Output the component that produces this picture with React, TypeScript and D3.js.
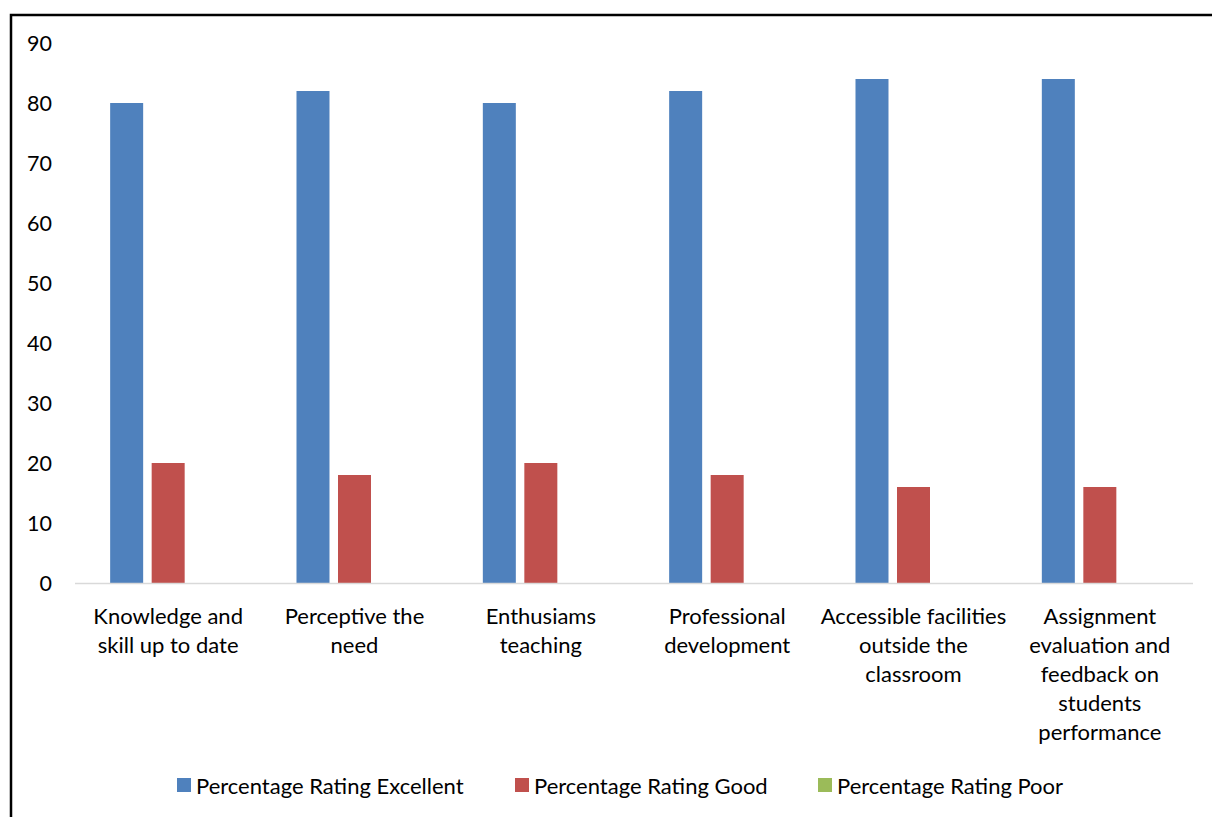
import React from "react";
import * as d3 from "d3";

const categories: string[][] = [
  ["Knowledge and", "skill up to date"],
  ["Perceptive the", "need"],
  ["Enthusiams", "teaching"],
  ["Professional", "development"],
  ["Accessible facilities", "outside the", "classroom"],
  ["Assignment", "evaluation and", "feedback on", "students", "performance"],
];
const seriesNames = [
  "Percentage Rating Excellent",
  "Percentage Rating Good",
  "Percentage Rating Poor",
];
const excellent = [80, 82, 80, 82, 84, 84];
const good = [20, 18, 20, 18, 16, 16];
const poor = [0, 0, 0, 0, 0, 0];
const yTicks = [0, 10, 20, 30, 40, 50, 60, 70, 80, 90];
const colors = ["#4F81BD", "#C0504D", "#9BBB59"];

const W = 1212;
const H = 817;
const FONT = "Lato, 'Open Sans', sans-serif";

export default function App() {
  const series = [excellent, good, poor];
  const x0 = 75;
  const x1 = 1193;
  const yBase = 583;
  const yTop = 43;
  const y = d3.scaleLinear().domain([0, 90]).range([yBase, yTop]);
  const idx = categories.map((_, i) => String(i));
  const xb = d3.scaleBand().domain(idx).range([x0, x1]).padding(0);
  const xs = d3
    .scaleBand()
    .domain(["0", "1", "2"])
    .range([0, xb.bandwidth()])
    .paddingInner(0.205)
    .paddingOuter(0.847);

  const legendX = [177, 515, 818];

  return (
    <svg
      width={W}
      height={H}
      style={{ position: "absolute", left: 0, top: 0, background: "#fff" }}
      fontFamily={FONT}
    >
      <rect x={0} y={0} width={W} height={H} fill="#fff" />
      <rect x={11} y={15} width={1400} height={1000} fill="none" stroke="#000" strokeWidth={2.5} />
      {yTicks.map((t) => (
        <text key={t} x={52} y={y(t)} textAnchor="end" dominantBaseline="central" fontSize={21.5} fill="#000">
          {t}
        </text>
      ))}
      {series.map((vals, si) =>
        vals.map((v, ci) => {
          const bx = (xb(String(ci)) as number) + (xs(String(si)) as number);
          return (
            <rect
              key={`${si}-${ci}`}
              x={bx}
              y={y(v)}
              width={xs.bandwidth()}
              height={yBase - y(v)}
              fill={colors[si]}
            />
          );
        })
      )}
      <line x1={x0} x2={x1} y1={yBase + 0.5} y2={yBase + 0.5} stroke="#d9d9d9" strokeWidth={1.5} />
      {categories.map((lines, ci) => {
        const cx = (xb(String(ci)) as number) + xb.bandwidth() / 2;
        return (
          <text key={ci} textAnchor="middle" fontSize={22} fill="#000">
            {lines.map((l, li) => (
              <tspan key={li} x={cx} y={615 + li * 29.2} dominantBaseline="central">
                {l}
              </tspan>
            ))}
          </text>
        );
      })}
      {seriesNames.map((n, si) => (
        <g key={n}>
          <rect x={legendX[si]} y={778} width={14} height={14} fill={colors[si]} />
          <text x={legendX[si] + 19} y={785} dominantBaseline="central" fontSize={22} fill="#000">
            {n}
          </text>
        </g>
      ))}
    </svg>
  );
}
